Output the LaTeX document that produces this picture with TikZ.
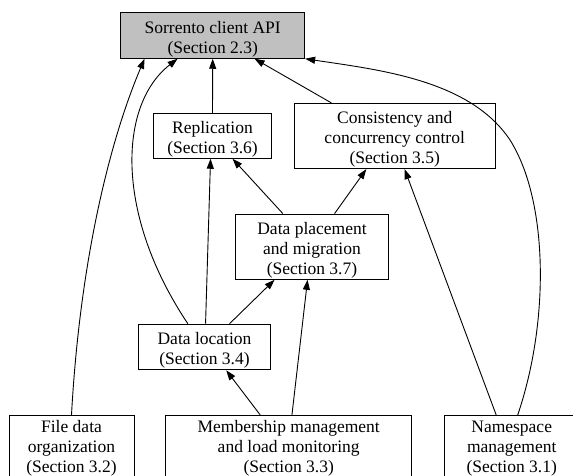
\documentclass[tikz,border=0pt]{standalone}
\usepackage{fontspec}
\setmainfont{Liberation Serif}
\usetikzlibrary{arrows.meta}
\definecolor{apigray}{RGB}{192,192,192}
\begin{document}
\begin{tikzpicture}[x=1pt,y=-1pt,
  box/.style={draw, line width=0.9pt, inner sep=0pt},
  txt/.style={inner sep=0pt, align=center, font=\fontsize{17.5}{20}\selectfont},
  conn/.style={line width=0.9pt, -{Triangle[length=10pt,width=7pt]}}]
\useasboundingbox (0,0) rectangle (573,476);
\node[box, fill=apigray, minimum width=184pt, minimum height=45.6pt] (api) at (212.7,35.5) {};
\node[box, minimum width=118.4pt, minimum height=45pt] (rep) at (212.5,135.8) {};
\node[box, minimum width=200.7pt, minimum height=65.4pt] (cons) at (394.7,136) {};
\node[box, minimum width=152.6pt, minimum height=65.3pt] (dp) at (312,246.7) {};
\node[box, minimum width=132.4pt, minimum height=45.7pt] (dl) at (204.5,347) {};
\node[box, minimum width=125pt, minimum height=65.4pt] (fd) at (71.5,448) {};
\node[box, minimum width=246pt, minimum height=65.4pt] (mm) at (288.7,448) {};
\node[box, minimum width=135pt, minimum height=65.4pt] (ns) at (511.7,448) {};

\node[txt] (apit) at ([yshift=-3.5pt]api.center) {Sorrento client API\\(Section 2.3)};
\node[txt] (rept) at ([yshift=-3.5pt]rep.center) {Replication\\(Section 3.6)};
\node[txt] (const) at ([yshift=-3.5pt]cons.center) {Consistency and\\concurrency control\\(Section 3.5)};
\node[txt] (dpt) at ([yshift=-3.5pt]dp.center) {Data placement\\and migration\\(Section 3.7)};
\node[txt] (dlt) at ([yshift=-3.5pt]dl.center) {Data location\\(Section 3.4)};
\node[txt] (fdt) at ([yshift=-0.5pt]fd.center) {File data\\organization\\(Section 3.2)};
\node[txt] (mmt) at ([yshift=-0.5pt]mm.center) {Membership management\\and load monitoring\\(Section 3.3)};
\node[txt] (nst) at ([yshift=-0.5pt]ns.center) {Namespace\\management\\(Section 3.1)};

\draw[conn] (fd.north) .. controls (80,260) and (110,140) .. ([xshift=24.3pt]api.south west);
\draw[conn] ([xshift=50pt]dl.north west) .. controls (115,215) and (118,105) .. ([xshift=57.3pt]api.south west);
\draw[conn] (rep.north) -- (api.south);
\draw[conn] ([xshift=37.4pt]cons.north west) -- ([xshift=134.3pt]api.south west);
\draw[conn] ([xshift=74pt]ns.north west) .. controls (550,320) and (548,200) .. (510,140) .. controls (470,80) and (380,70) .. (api.south east);
\draw[conn] ([xshift=47.6pt]dp.north west) -- ([xshift=79.7pt]rep.south west);
\draw[conn] ([xshift=99.3pt]dp.north west) -- ([xshift=72.4pt]cons.south west);
\draw[conn] ([xshift=67.7pt]dl.north west) -- ([xshift=57.7pt]rep.south west);
\draw[conn] ([xshift=91.7pt]dl.north west) -- ([xshift=39.3pt]dp.south west);
\draw[conn] ([xshift=94.9pt]mm.north west) -- ([xshift=88.4pt]dl.south west);
\draw[conn] ([xshift=126.7pt]mm.north west) -- ([xshift=72.3pt]dp.south west);
\draw[conn] ([xshift=52.4pt]ns.north west) -- ([xshift=110.7pt]cons.south west);
\end{tikzpicture}
\end{document}
